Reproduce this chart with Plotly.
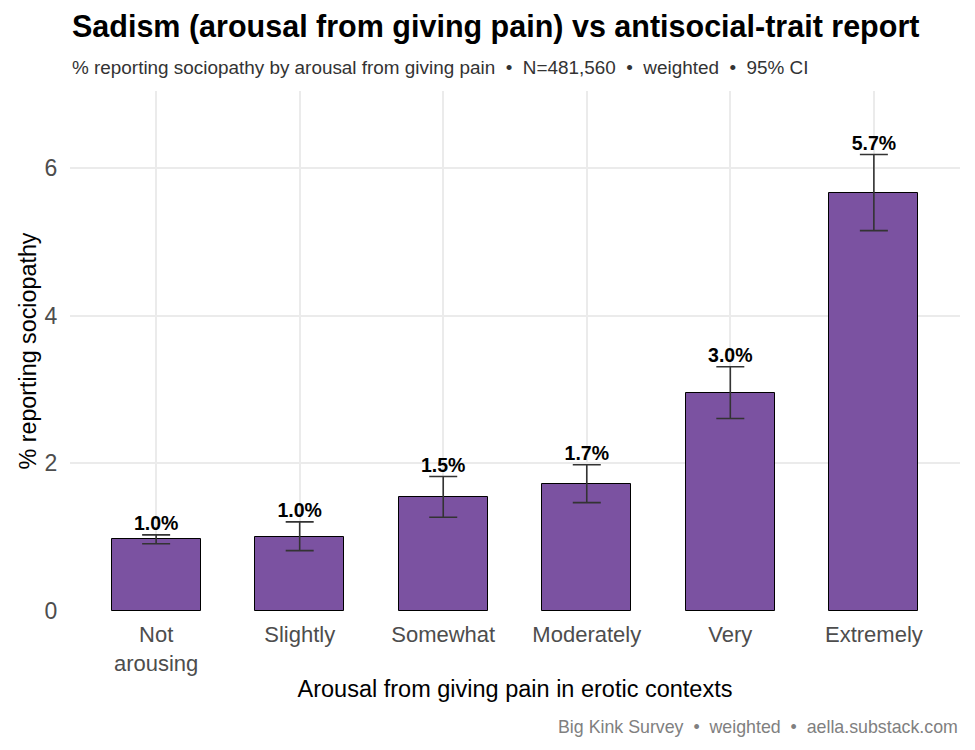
import plotly.graph_objects as go

categories = ["Not<br>arousing", "Slightly", "Somewhat", "Moderately", "Very", "Extremely"]
pct = [0.976, 0.998, 1.54, 1.717, 2.95, 5.66]
ci_low = [0.91, 0.817, 1.27, 1.467, 2.606, 5.15]
ci_high = [1.03, 1.206, 1.82, 1.98, 3.306, 6.18]
labels = ["1.0%", "1.0%", "1.5%", "1.7%", "3.0%", "5.7%"]
y_ticks = [0, 2, 4, 6]

font_family = "Liberation Sans, Arial, sans-serif"
x_idx = list(range(len(categories)))

fig = go.Figure()
fig.add_trace(go.Bar(
    x=x_idx, y=pct, width=0.62,
    marker=dict(color="#7B52A1", line=dict(color="black", width=1)),
    error_y=dict(type="data", symmetric=False,
                 array=[h - p for h, p in zip(ci_high, pct)],
                 arrayminus=[p - l for p, l in zip(pct, ci_low)],
                 color="#333333", thickness=1.6, width=14),
    hoverinfo="skip", showlegend=False,
))
fig.add_trace(go.Scatter(
    x=x_idx, y=ci_high, mode="text", text=labels,
    textposition="top center",
    textfont=dict(family=font_family, size=19.5, color="black", weight="bold"),
    hoverinfo="skip", showlegend=False, cliponaxis=False,
))

fig.update_layout(
    width=975, height=750,
    margin=dict(l=70, r=15, t=91, b=139),
    plot_bgcolor="white", paper_bgcolor="white",
    font=dict(family=font_family),
    bargap=0,
    xaxis=dict(
        range=[-0.6, 5.6], tickmode="array", tickvals=x_idx, ticktext=categories,
        showgrid=True, gridcolor="#EBEBEB", gridwidth=1.5, zeroline=False,
        tickfont=dict(size=22, color="#4D4D4D"),
        ticks="outside", ticklen=4, tickcolor="rgba(0,0,0,0)",
        title=dict(text="Arousal from giving pain in erotic contexts",
                   font=dict(size=23.5, color="black"), standoff=5),
    ),
    yaxis=dict(
        range=[0, 7.04], tickmode="array", tickvals=y_ticks,
        showgrid=True, gridcolor="#EBEBEB", gridwidth=1.5, zeroline=False,
        tickfont=dict(size=23, color="#4D4D4D"),
        ticks="outside", ticklen=7, tickcolor="rgba(0,0,0,0)",
        title=dict(text="% reporting sociopathy", font=dict(size=23.3, color="black"), standoff=1),
    ),
    annotations=[
        dict(text="<b>Sadism (arousal from giving pain) vs antisocial-trait report</b>",
             xref="paper", yref="paper", x=0, xanchor="left",
             y=1, yanchor="bottom", yshift=45, showarrow=False,
             font=dict(size=30.5, color="black")),
        dict(text="% reporting sociopathy by arousal from giving pain  •  N=481,560  •  weighted  •  95% CI",
             xref="paper", yref="paper", x=0, xanchor="left",
             y=1, yanchor="bottom", yshift=11, showarrow=False,
             font=dict(size=18.9, color="#333333")),
        dict(text="Big Kink Survey  •  weighted  •  aella.substack.com",
             xref="paper", yref="paper", x=1, xanchor="right",
             y=0, yanchor="top", yshift=-104, showarrow=False,
             font=dict(size=17.8, color="#808080")),
    ],
)

fig.write_html("out.html")
